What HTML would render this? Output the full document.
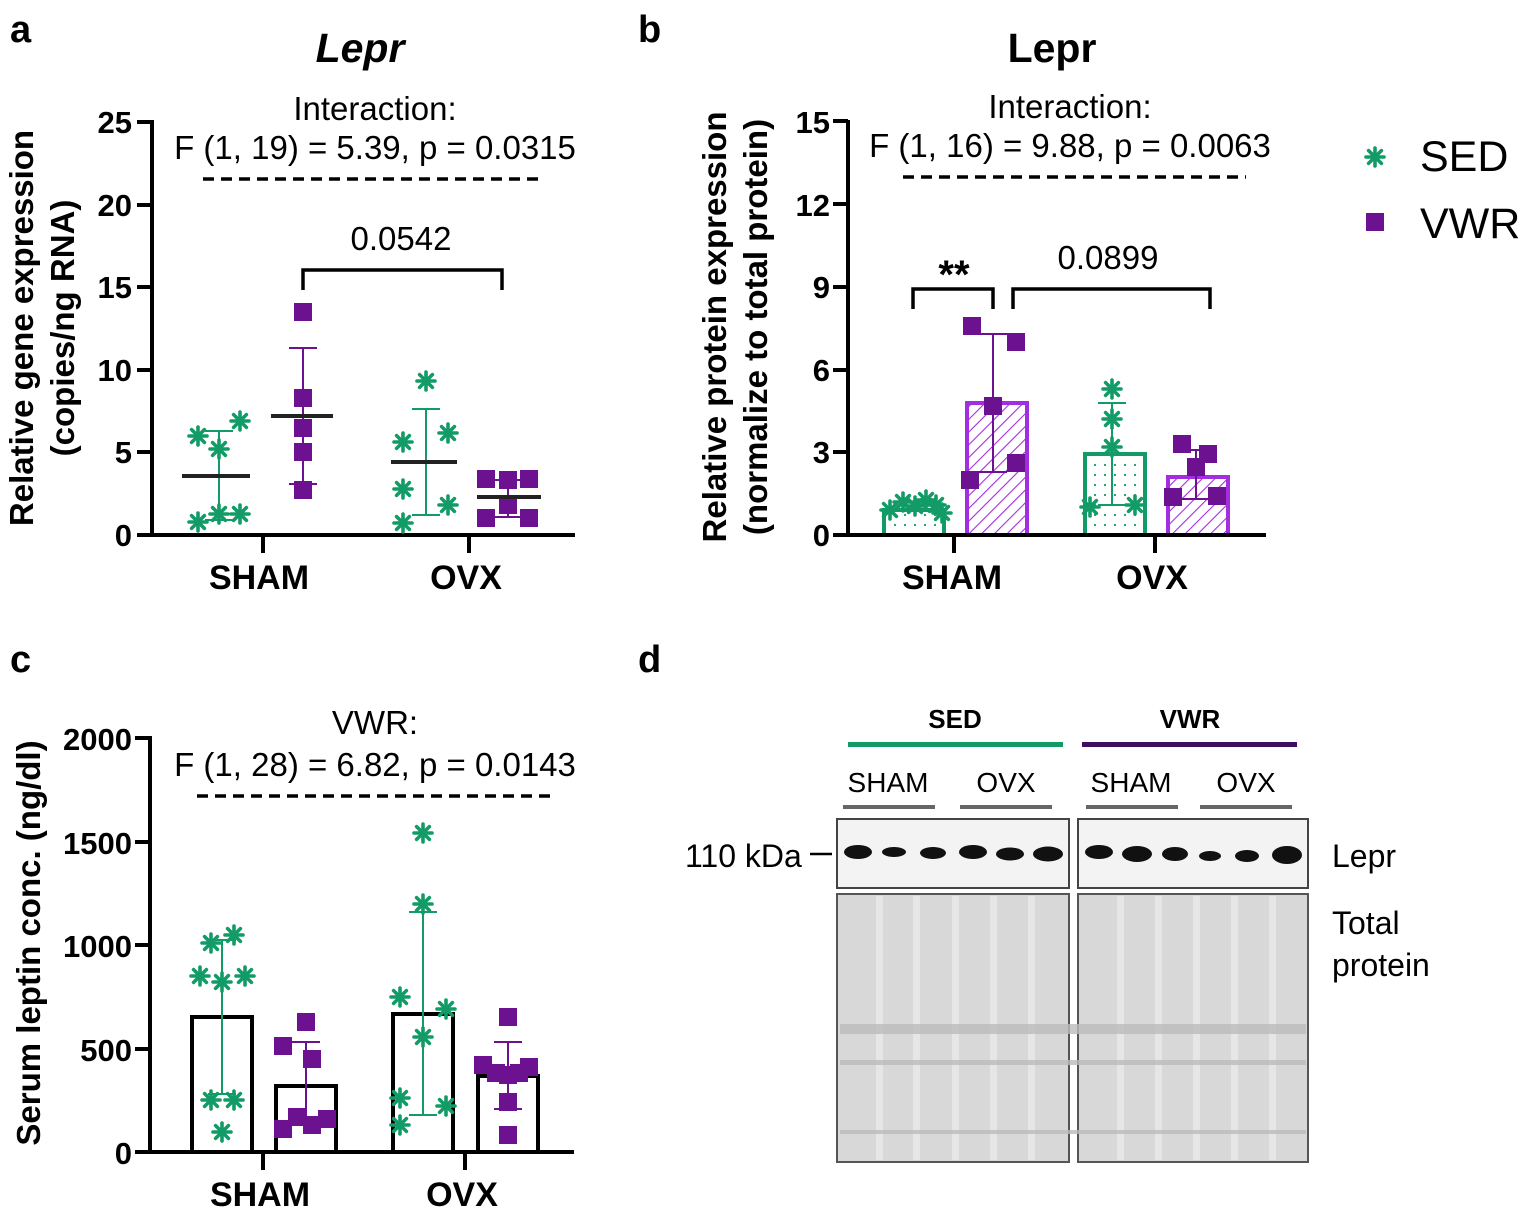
<!DOCTYPE html>
<html><head><meta charset="utf-8"><style>
html,body{margin:0;padding:0;background:#fff}
svg{display:block}
text{font-family:"Liberation Sans",Arial,sans-serif}
.tk{font-weight:bold;font-size:31px;text-anchor:end}
.xl{font-weight:bold;font-size:34px;text-anchor:middle}
.st{font-size:33px;text-anchor:middle}
.yt{font-weight:bold;font-size:33px;text-anchor:middle}
.ax{stroke:#000;stroke-width:4;fill:none}
.dash{stroke:#000;stroke-width:3.5;stroke-dasharray:11,7}
.eg{stroke:#129b67;stroke-width:2}
.ep{stroke:#6c1291;stroke-width:2}
.mn{stroke:#222;stroke-width:4}
</style></head><body>
<svg width="1535" height="1213" viewBox="0 0 1535 1213" xmlns="http://www.w3.org/2000/svg">
<defs>
<g id="a"><g stroke="#129b67" stroke-width="3.6" stroke-linecap="round"><line x1="-9" y1="0" x2="9" y2="0"/><line x1="0" y1="-9" x2="0" y2="9"/><line x1="-6.4" y1="-6.4" x2="6.4" y2="6.4"/><line x1="-6.4" y1="6.4" x2="6.4" y2="-6.4"/></g></g>
<rect id="s" x="-9" y="-9" width="18" height="18" fill="#6c1291"/>
<pattern id="dots" width="10" height="10" patternUnits="userSpaceOnUse"><circle cx="5" cy="5" r="1.1" fill="#129b67"/></pattern>
<pattern id="hatch" width="9" height="9" patternUnits="userSpaceOnUse" patternTransform="rotate(45)"><line x1="0" y1="0" x2="0" y2="9" stroke="#a32ee0" stroke-width="2.2"/></pattern>
</defs>

<text x="10" y="42" font-size="38" font-weight="bold">a</text>
<text x="638" y="42" font-size="38" font-weight="bold">b</text>
<text x="10" y="672" font-size="38" font-weight="bold">c</text>
<text x="638" y="672" font-size="38" font-weight="bold">d</text>

<!-- ============ Panel a ============ -->
<text x="360" y="62" font-size="41" font-weight="bold" font-style="italic" text-anchor="middle">Lepr</text>
<text x="375" y="120" class="st">Interaction:</text>
<text x="375" y="159" class="st">F (1, 19) = 5.39, p = 0.0315</text>
<line x1="203" y1="179" x2="545" y2="179" class="dash"/>
<path class="ax" d="M152 120 V535 H575 M137 122 H152 M137 205 H152 M137 287 H152 M137 370 H152 M137 452 H152 M137 535 H152 M263 535 V553 M469 535 V553"/>
<text x="132" y="133" class="tk">25</text><text x="132" y="216" class="tk">20</text><text x="132" y="298" class="tk">15</text><text x="132" y="381" class="tk">10</text><text x="132" y="463" class="tk">5</text><text x="132" y="546" class="tk">0</text>
<text x="259" y="589" class="xl">SHAM</text><text x="466" y="589" class="xl">OVX</text>
<text transform="translate(33,328) rotate(-90)" class="yt">Relative gene expression</text>
<text transform="translate(74,328) rotate(-90)" class="yt">(copies/ng RNA)</text>
<path d="M303 290 V270 H502 V290" stroke="#000" stroke-width="3.5" fill="none"/>
<text x="401" y="250" class="st">0.0542</text>
<path class="eg" d="M219 431 V520 M205 431 H233 M205 520 H233"/>
<use href="#a" x="198" y="436"/><use href="#a" x="219" y="449"/><use href="#a" x="240" y="421"/><use href="#a" x="198" y="522"/><use href="#a" x="219" y="514"/><use href="#a" x="240" y="514"/>
<line class="mn" x1="182" y1="476" x2="250" y2="476"/>
<path class="ep" d="M303 348 V484 M289 348 H317 M289 484 H317"/>
<use href="#s" x="303" y="312"/><use href="#s" x="303" y="398"/><use href="#s" x="303" y="428"/><use href="#s" x="303" y="452"/><use href="#s" x="303" y="490"/>
<line class="mn" x1="271" y1="416" x2="333" y2="416"/>
<path class="eg" d="M426 409 V515 M412 409 H440 M412 515 H440"/>
<use href="#a" x="426" y="381"/><use href="#a" x="403" y="442"/><use href="#a" x="448" y="433"/><use href="#a" x="403" y="489"/><use href="#a" x="448" y="505"/><use href="#a" x="403" y="523"/>
<line class="mn" x1="391" y1="462" x2="457" y2="462"/>
<path class="ep" d="M508 480 V517 M494 480 H522 M494 517 H522"/>
<use href="#s" x="486" y="479"/><use href="#s" x="508" y="480"/><use href="#s" x="529" y="479"/><use href="#s" x="508" y="505"/><use href="#s" x="486" y="518"/><use href="#s" x="529" y="518"/>
<line class="mn" x1="477" y1="497" x2="541" y2="497"/>

<!-- ============ Panel b ============ -->
<text x="1052" y="62" font-size="41" font-weight="bold" text-anchor="middle">Lepr</text>
<text x="1070" y="118" class="st">Interaction:</text>
<text x="1070" y="157" class="st">F (1, 16) = 9.88, p = 0.0063</text>
<line x1="903" y1="177" x2="1246" y2="177" class="dash"/>
<text transform="translate(726,327) rotate(-90)" class="yt">Relative protein expression</text>
<text transform="translate(767,327) rotate(-90)" class="yt">(normalize to total protein)</text>
<text x="830" y="133" class="tk">15</text><text x="830" y="216" class="tk">12</text><text x="830" y="298" class="tk">9</text><text x="830" y="381" class="tk">6</text><text x="830" y="463" class="tk">3</text><text x="830" y="546" class="tk">0</text>
<text x="952" y="589" class="xl">SHAM</text><text x="1152" y="589" class="xl">OVX</text>
<rect x="884" y="510" width="60" height="25" fill="url(#dots)" stroke="#129b67" stroke-width="4"/>
<rect x="967" y="403" width="60" height="132" fill="url(#hatch)" stroke="#a32ee0" stroke-width="4"/>
<rect x="1085" y="454" width="60" height="81" fill="url(#dots)" stroke="#129b67" stroke-width="4"/>
<rect x="1168" y="477" width="60" height="58" fill="url(#hatch)" stroke="#a32ee0" stroke-width="4"/>
<path class="ax" d="M848 120 V535 H1266 M833 121 H848 M833 204 H848 M833 287 H848 M833 370 H848 M833 452 H848 M833 535 H848 M954 535 V553 M1155 535 V553"/>
<path d="M913 309 V289 H993 V309 M1013 309 V289 H1210 V309" stroke="#000" stroke-width="3.5" fill="none"/>
<text x="954" y="288" font-size="40" font-weight="bold" text-anchor="middle">**</text>
<text x="1108" y="269" class="st">0.0899</text>
<use href="#a" x="890" y="510"/><use href="#a" x="903" y="502"/><use href="#a" x="915" y="506"/><use href="#a" x="926" y="500"/><use href="#a" x="936" y="505"/><use href="#a" x="942" y="513"/>
<path class="ep" d="M993 334 V472 M979 334 H1007 M979 472 H1007"/>
<use href="#s" x="972" y="326"/><use href="#s" x="1016" y="342"/><use href="#s" x="993" y="406"/><use href="#s" x="1016" y="463"/><use href="#s" x="970" y="480"/>
<path class="eg" d="M1112 403 V505 M1098 403 H1126 M1098 505 H1126"/>
<use href="#a" x="1112" y="389"/><use href="#a" x="1112" y="419"/><use href="#a" x="1112" y="447"/><use href="#a" x="1090" y="507"/><use href="#a" x="1135" y="505"/>
<path class="ep" d="M1196 450 V499 M1182 450 H1210 M1182 499 H1210"/>
<use href="#s" x="1182" y="444"/><use href="#s" x="1208" y="454"/><use href="#s" x="1196" y="467"/><use href="#s" x="1173" y="497"/><use href="#s" x="1217" y="496"/>
<use href="#a" x="1375" y="157"/>
<text x="1420" y="171" font-size="43">SED</text>
<use href="#s" x="1375" y="222"/>
<text x="1420" y="238" font-size="43">VWR</text>

<!-- ============ Panel c ============ -->
<text x="375" y="734" class="st">VWR:</text>
<text x="375" y="776" class="st">F (1, 28) = 6.82, p = 0.0143</text>
<line x1="197" y1="796" x2="557" y2="796" class="dash"/>
<text transform="translate(40,943) rotate(-90)" class="yt">Serum leptin conc. (ng/dl)</text>
<text x="132" y="750" class="tk">2000</text><text x="132" y="854" class="tk">1500</text><text x="132" y="957" class="tk">1000</text><text x="132" y="1061" class="tk">500</text><text x="132" y="1164" class="tk">0</text>
<text x="260" y="1206" class="xl">SHAM</text><text x="462" y="1206" class="xl">OVX</text>
<rect x="192" y="1017" width="60" height="135" fill="none" stroke="#000" stroke-width="4"/>
<rect x="276" y="1086" width="60" height="66" fill="none" stroke="#000" stroke-width="4"/>
<rect x="393" y="1014" width="60" height="138" fill="none" stroke="#000" stroke-width="4"/>
<rect x="478" y="1076" width="60" height="76" fill="none" stroke="#000" stroke-width="4"/>
<path class="ax" d="M150 736 V1152 H574 M135 738 H150 M135 842 H150 M135 945 H150 M135 1049 H150 M135 1152 H150 M263 1152 V1170 M465 1152 V1170"/>
<path class="eg" d="M222 940 V1094 M208 940 H236 M208 1094 H236"/>
<use href="#a" x="211" y="943"/><use href="#a" x="234" y="935"/><use href="#a" x="200" y="976"/><use href="#a" x="222" y="982"/><use href="#a" x="245" y="976"/><use href="#a" x="211" y="1100"/><use href="#a" x="234" y="1100"/><use href="#a" x="222" y="1132"/>
<path class="ep" d="M306 1042 V1125 M292 1042 H320 M292 1125 H320"/>
<use href="#s" x="306" y="1022"/><use href="#s" x="283" y="1046"/><use href="#s" x="312" y="1059"/><use href="#s" x="283" y="1129"/><use href="#s" x="297" y="1117"/><use href="#s" x="312" y="1125"/><use href="#s" x="327" y="1119"/>
<path class="eg" d="M423 912 V1115 M409 912 H437 M409 1115 H437"/>
<use href="#a" x="423" y="833"/><use href="#a" x="423" y="904"/><use href="#a" x="423" y="1037"/><use href="#a" x="400" y="997"/><use href="#a" x="400" y="1098"/><use href="#a" x="400" y="1125"/><use href="#a" x="446" y="1009"/><use href="#a" x="446" y="1106"/>
<path class="ep" d="M508 1042 V1109 M494 1042 H522 M494 1109 H522"/>
<use href="#s" x="508" y="1017"/><use href="#s" x="483" y="1065"/><use href="#s" x="496" y="1073"/><use href="#s" x="508" y="1075"/><use href="#s" x="519" y="1073"/><use href="#s" x="529" y="1067"/><use href="#s" x="508" y="1102"/><use href="#s" x="508" y="1135"/>

<!-- ============ Panel d ============ -->
<text x="955" y="728" font-size="26" font-weight="bold" text-anchor="middle">SED</text>
<text x="1190" y="728" font-size="26" font-weight="bold" text-anchor="middle">VWR</text>
<rect x="848" y="742" width="215" height="5" fill="#129b67"/>
<rect x="1082" y="742" width="215" height="5" fill="#3d0f5e"/>
<g font-size="28" text-anchor="middle"><text x="888" y="792">SHAM</text><text x="1006" y="792">OVX</text><text x="1131" y="792">SHAM</text><text x="1246" y="792">OVX</text></g>
<g fill="#666"><rect x="843" y="805" width="92" height="4"/><rect x="960" y="805" width="92" height="4"/><rect x="1086" y="805" width="92" height="4"/><rect x="1200" y="805" width="92" height="4"/></g>
<rect x="837" y="819" width="232" height="69" fill="#f3f3f3" stroke="#444" stroke-width="2"/>
<rect x="1078" y="819" width="230" height="69" fill="#f3f3f3" stroke="#444" stroke-width="2"/>
<g fill="#111">
<ellipse cx="858" cy="852" rx="14" ry="7"/><ellipse cx="894" cy="852" rx="12" ry="5"/><ellipse cx="933" cy="853" rx="13" ry="6"/><ellipse cx="973" cy="852" rx="14" ry="7"/><ellipse cx="1010" cy="854" rx="14" ry="6.5"/><ellipse cx="1048" cy="854" rx="15" ry="7.5"/>
<ellipse cx="1099" cy="852" rx="14" ry="7"/><ellipse cx="1137" cy="854" rx="15" ry="8"/><ellipse cx="1175" cy="854" rx="13" ry="7"/><ellipse cx="1210" cy="856" rx="11" ry="5"/><ellipse cx="1247" cy="856" rx="12" ry="6"/><ellipse cx="1287" cy="855" rx="15" ry="9"/>
</g>
<rect x="837" y="894" width="232" height="268" fill="#d8d8d8" stroke="#555" stroke-width="2"/>
<rect x="1078" y="894" width="230" height="268" fill="#d8d8d8" stroke="#555" stroke-width="2"/>
<g fill="#e6e6e6">
<rect x="876" y="896" width="7" height="264"/><rect x="913" y="896" width="7" height="264"/><rect x="952" y="896" width="7" height="264"/><rect x="990" y="896" width="7" height="264"/><rect x="1028" y="896" width="7" height="264"/>
<rect x="1117" y="896" width="7" height="264"/><rect x="1155" y="896" width="7" height="264"/><rect x="1193" y="896" width="7" height="264"/><rect x="1231" y="896" width="7" height="264"/><rect x="1269" y="896" width="7" height="264"/>
</g>
<g fill="#bcbcbc" opacity="0.8">
<rect x="840" y="1024" width="466" height="10"/><rect x="840" y="1060" width="466" height="5"/><rect x="840" y="1130" width="466" height="4"/>
</g>
<text x="685" y="867" font-size="32">110 kDa</text>
<line x1="810" y1="854" x2="832" y2="854" stroke="#000" stroke-width="2.5"/>
<text x="1332" y="867" font-size="32">Lepr</text>
<text x="1332" y="934" font-size="32">Total</text>
<text x="1332" y="976" font-size="32">protein</text>
</svg>
</body></html>
